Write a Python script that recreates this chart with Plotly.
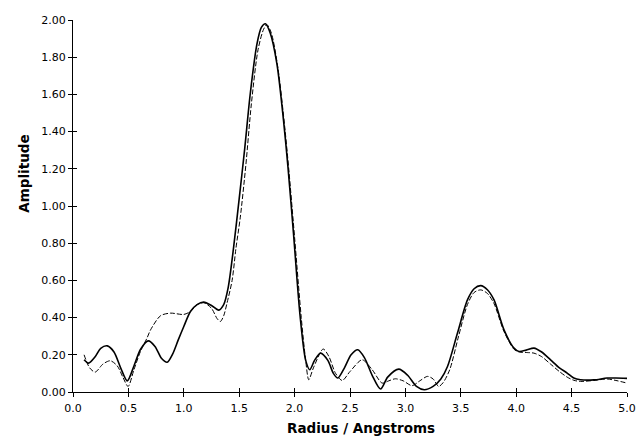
import plotly.graph_objects as go

# Radial distribution amplitude vs radius (Angstroms)
radius_solid = [0.10, 0.14, 0.20, 0.25, 0.31, 0.37, 0.43, 0.49, 0.55, 0.61, 0.68, 0.74, 0.80, 0.85,
                0.90, 0.95, 1.00, 1.06, 1.12, 1.18, 1.25, 1.315, 1.36, 1.40, 1.45, 1.50, 1.55, 1.60,
                1.66, 1.70, 1.737, 1.78, 1.84, 1.90, 1.94, 1.99, 2.05, 2.10, 2.137, 2.18, 2.234, 2.30,
                2.35, 2.39, 2.45, 2.51, 2.57, 2.63, 2.70, 2.776, 2.84, 2.94, 3.02, 3.10, 3.17, 3.25,
                3.32, 3.38, 3.47, 3.56, 3.62, 3.68, 3.74, 3.80, 3.89, 3.98, 4.025, 4.09, 4.16, 4.23,
                4.31, 4.39, 4.46, 4.52, 4.58, 4.70, 4.82, 4.90, 5.00]
amp_solid = [0.173, 0.155, 0.19, 0.235, 0.248, 0.215, 0.13, 0.06, 0.14, 0.23, 0.275, 0.245, 0.18, 0.16,
             0.205, 0.28, 0.352, 0.433, 0.47, 0.483, 0.465, 0.44, 0.47, 0.56, 0.78, 1.04, 1.31, 1.605,
             1.87, 1.96, 1.98, 1.93, 1.766, 1.46, 1.21, 0.853, 0.406, 0.17, 0.12, 0.17, 0.209, 0.17,
             0.10, 0.075, 0.13, 0.20, 0.227, 0.185, 0.09, 0.016, 0.08, 0.123, 0.09, 0.03, 0.012, 0.03,
             0.07, 0.137, 0.317, 0.495, 0.555, 0.572, 0.55, 0.495, 0.334, 0.236, 0.218, 0.225, 0.236, 0.215,
             0.173, 0.13, 0.102, 0.075, 0.066, 0.065, 0.075, 0.075, 0.073]

radius_dashed = [0.10, 0.15, 0.20, 0.27, 0.337, 0.40, 0.45, 0.497, 0.55, 0.61, 0.668, 0.70, 0.79, 0.88,
                 1.00, 1.06, 1.12, 1.18, 1.25, 1.30, 1.33, 1.36, 1.39, 1.436, 1.47, 1.51, 1.56, 1.61,
                 1.67, 1.72, 1.75, 1.79, 1.85, 1.91, 1.95, 2.00, 2.06, 2.10, 2.128, 2.17, 2.258, 2.31,
                 2.37, 2.43, 2.50, 2.61, 2.70, 2.79, 2.85, 2.91, 2.98, 3.06, 3.13, 3.20, 3.25, 3.30,
                 3.34, 3.40, 3.48, 3.56, 3.62, 3.68, 3.74, 3.80, 3.89, 3.98, 4.03, 4.10, 4.16, 4.23,
                 4.31, 4.39, 4.46, 4.52, 4.58, 4.70, 4.82, 4.90, 5.00]
amp_dashed = [0.20, 0.13, 0.107, 0.15, 0.168, 0.14, 0.08, 0.03, 0.12, 0.22, 0.29, 0.334, 0.41, 0.424,
              0.417, 0.433, 0.47, 0.48, 0.45, 0.395, 0.379, 0.41, 0.478, 0.60, 0.77, 0.94, 1.22, 1.55,
              1.84, 1.95, 1.975, 1.93, 1.74, 1.43, 1.18, 0.83, 0.40, 0.17, 0.066, 0.13, 0.231, 0.19,
              0.10, 0.062, 0.11, 0.173, 0.12, 0.048, 0.06, 0.071, 0.06, 0.034, 0.06, 0.084, 0.07, 0.03,
              0.05, 0.12, 0.30, 0.47, 0.535, 0.549, 0.53, 0.475, 0.325, 0.23, 0.215, 0.212, 0.209, 0.19,
              0.15, 0.11, 0.08, 0.063, 0.057, 0.062, 0.07, 0.062, 0.048]

x_range = [0, 5]
y_range = [0, 2]

fig = go.Figure()
fig.add_trace(go.Scatter(x=radius_solid, y=amp_solid, mode="lines",
                         line=dict(color="black", width=1.6, shape="spline", smoothing=0.8),
                         showlegend=False, hoverinfo="skip"))
fig.add_trace(go.Scatter(x=radius_dashed, y=amp_dashed, mode="lines", xaxis="x2", yaxis="y2",
                         line=dict(color="black", width=1, dash="5px,2px", shape="spline", smoothing=0.8),
                         showlegend=False, hoverinfo="skip"))

tick_font = dict(family="DejaVu Sans", size=11, color="black")
title_font = dict(family="DejaVu Sans", size=13.5, color="black")

common = dict(showgrid=False, zeroline=False, automargin=False)
fig.update_layout(
    width=640, height=437,
    margin=dict(l=73, r=13, t=20, b=45, autoexpand=False),
    paper_bgcolor="white", plot_bgcolor="white",
    xaxis=dict(range=x_range, dtick=0.5, tick0=0, tickformat=".1f", ticks="outside", ticklen=4,
               tickwidth=1, tickcolor="black", showline=True, linecolor="black", linewidth=1.2,
               tickfont=tick_font, ticklabelstandoff=2, **common),
    yaxis=dict(range=y_range, dtick=0.2, tick0=0, tickformat=".2f", ticks="outside", ticklen=4,
               tickwidth=1, tickcolor="black", showline=True, linecolor="black", linewidth=1.2,
               tickfont=tick_font, **common),
    # inner half of the crossing tick marks
    xaxis2=dict(range=x_range, dtick=0.5, tick0=0, overlaying="x", anchor="y", side="bottom",
                ticks="inside", ticklen=4, tickwidth=1, tickcolor="black", showticklabels=False,
                showline=False, **common),
    yaxis2=dict(range=y_range, dtick=0.2, tick0=0, overlaying="y", anchor="x", side="left",
                ticks="inside", ticklen=4, tickwidth=1, tickcolor="black", showticklabels=False,
                showline=False, **common),
    annotations=[
        dict(text="<b>Radius / Angstroms</b>", xref="paper", yref="paper", x=0.52, y=-0.096,
             xanchor="center", yanchor="middle", showarrow=False, font=title_font),
        dict(text="<b>Amplitude</b>", xref="paper", yref="paper", x=-0.089, y=0.586,
             xanchor="center", yanchor="middle", textangle=-90, showarrow=False, font=title_font),
    ],
)

fig.write_html("out.html")
